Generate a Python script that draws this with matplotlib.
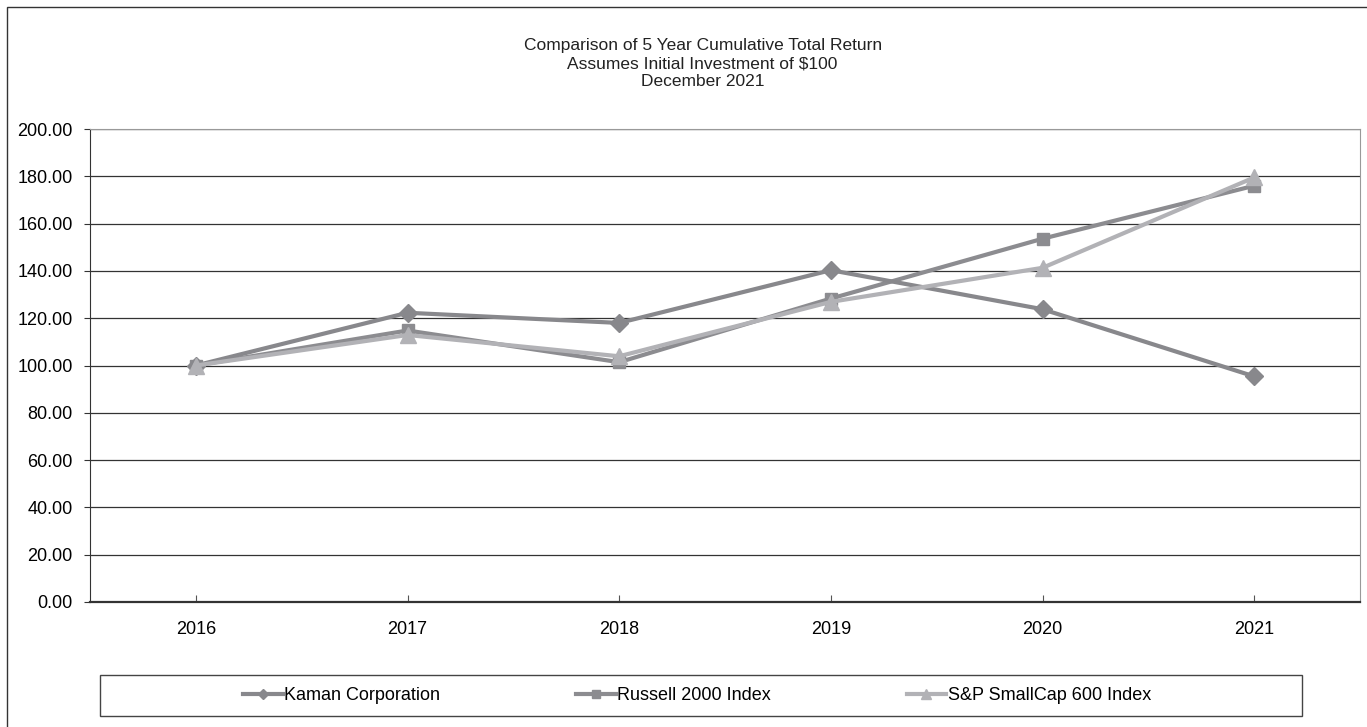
import matplotlib.pyplot as plt
from matplotlib.patches import Rectangle

plt.rcParams["font.family"] = ["Liberation Sans", "DejaVu Sans"]

years = ["2016", "2017", "2018", "2019", "2020", "2021"]
kaman = [100.00, 122.3, 118.0, 140.3, 123.8, 95.4]
russell = [100.00, 114.8, 101.4, 128.3, 153.6, 176.0]
sp600 = [100.00, 112.9, 103.9, 126.9, 141.3, 179.5]
yticks = [0, 20, 40, 60, 80, 100, 120, 140, 160, 180, 200]

W, H = 1367, 727
fig = plt.figure(figsize=(W / 100, H / 100), dpi=100)
ax = fig.add_axes([90 / W, 1 - 602 / H, 1270 / W, 473 / H])

x = list(range(len(years)))
ax.plot(x, kaman, color="#88888c", lw=3, marker="D", ms=9, zorder=4,
        label="Kaman Corporation")
ax.plot(x, russell, color="#8c8c90", lw=3, marker="s", ms=9, zorder=3,
        label="Russell 2000 Index")
ax.plot(x, sp600, color="#b2b2b6", lw=3, marker="^", ms=11, zorder=5,
        label="S&P SmallCap 600 Index")

ax.set_xlim(-0.5, 5.5)
ax.set_ylim(0, 200)
ax.set_xticks(x)
ax.set_xticklabels(years, fontsize=13)
ax.set_yticks(yticks)
ax.set_yticklabels([f"{v:.2f}" for v in yticks], fontsize=13)
ax.tick_params(axis="x", direction="in", length=5, pad=14, color="#555555")
ax.tick_params(axis="y", direction="out", length=4, pad=8.5, color="#333333")
ax.yaxis.grid(True, color="#333333", lw=0.9)
ax.set_axisbelow(True)
for side in ["top", "right"]:
    ax.spines[side].set_color("#999999")
for side in ["left", "bottom"]:
    ax.spines[side].set_color("#333333")
ax.spines["bottom"].set_linewidth(1.6)

fig.text(0.514, 1 - 63.5 / H, "Comparison of 5 Year Cumulative Total Return\n"
         "Assumes Initial Investment of $100\nDecember 2021",
         ha="center", va="center", fontsize=12.5, linespacing=1.22,
         color="#222222")

leg = fig.legend(loc="center", bbox_to_anchor=(0.51, 1 - 695.5 / H), ncol=3,
                 fontsize=13, frameon=False, handlelength=2.2,
                 handletextpad=0.1, columnspacing=7.5, markerscale=0.6)

# legend box and outer border of the chart area
fig.add_artist(Rectangle((100 / W, 1 - 716 / H), 1202 / W, 41 / H,
                         transform=fig.transFigure, fill=False,
                         edgecolor="#444444", lw=1.0))
fig.add_artist(Rectangle((6.5 / W, -0.1), 1.2, 1.1 - 7 / H,
                         transform=fig.transFigure, fill=False,
                         edgecolor="#333333", lw=1.0))

fig.savefig("out.png", dpi=100)
